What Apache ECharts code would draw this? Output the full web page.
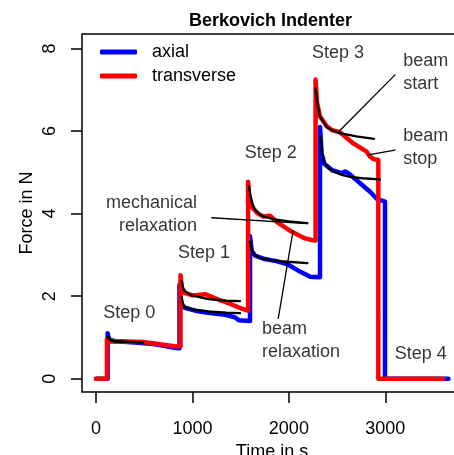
<!DOCTYPE html>
<html>
<head>
<meta charset="utf-8">
<script src="https://cdn.jsdelivr.net/npm/echarts@6/dist/echarts.min.js"></script>
<style>
  html, body { margin: 0; padding: 0; background: #fff; }
  #chart { width: 454px; height: 455px; }
</style>
</head>
<body>
<div id="chart"></div>
<script>
// measured force curves [time s, force N]
const axial = [
  [0, 0], [120, 0], [120, 1.10], [135, 0.95], [200, 0.91], [400, 0.88], [600, 0.84], [815, 0.75], [865, 0.74],
  [865, 2.28], [882, 1.80], [920, 1.72], [1030, 1.65], [1160, 1.60], [1340, 1.55], [1440, 1.49], [1480, 1.42], [1597, 1.40],
  [1597, 3.45], [1615, 3.10], [1650, 2.98], [1750, 2.90], [1870, 2.85], [1980, 2.78], [2120, 2.59], [2220, 2.47], [2323, 2.46],
  [2323, 6.10], [2340, 5.45], [2370, 5.20], [2450, 5.05], [2548, 4.98], [2582, 5.02], [2620, 4.97], [2703, 4.81], [2842, 4.53], [2911, 4.36], [2997, 4.29],
  [2997, 0], [3655, 0]
];
const transverse = [
  [0, 0], [113, 0], [113, 0.96], [130, 0.91], [300, 0.90], [487, 0.89], [642, 0.84], [815, 0.79], [876, 0.79],
  [876, 2.51], [890, 2.20], [920, 2.08], [1000, 2.02], [1130, 2.05], [1268, 1.92], [1407, 1.80], [1511, 1.70], [1577, 1.65],
  [1577, 4.77], [1590, 4.40], [1620, 4.15], [1680, 4.00], [1736, 3.93], [1804, 3.95], [1874, 3.80], [2030, 3.56], [2168, 3.40], [2237, 3.36], [2277, 3.35],
  [2277, 7.25], [2292, 6.70], [2323, 6.35], [2392, 6.12], [2450, 6.02], [2530, 5.97], [2669, 5.70], [2807, 5.50], [2842, 5.38], [2880, 5.32], [2928, 5.30],
  [2928, 0], [3603, 0]
];

// relaxation fits
const fitA0 = [[124, 1.03], [150, 0.95], [176, 0.92], [300, 0.90], [487, 0.88]];
const fitT0 = [[120, 1.00], [150, 0.93], [200, 0.90], [350, 0.89], [480, 0.87]];
const fitT1 = [[888, 2.36], [905, 2.18], [922, 2.12], [992, 2.02], [1164, 1.93], [1350, 1.89], [1493, 1.88]];
const fitA1 = [[888, 1.97], [905, 1.80], [922, 1.74], [992, 1.68], [1164, 1.63], [1350, 1.60], [1493, 1.59]];
const fitT2 = [[1587, 4.65], [1600, 4.45], [1620, 4.25], [1649, 4.09], [1700, 3.98], [1736, 3.93], [1850, 3.86], [2000, 3.81], [2192, 3.77]];
const fitA2 = [[1597, 3.32], [1610, 3.15], [1630, 3.05], [1649, 3.00], [1700, 2.93], [1800, 2.88], [1950, 2.84], [2192, 2.80]];
const fitT3 = [[2278, 7.03], [2290, 6.75], [2305, 6.55], [2323, 6.35], [2392, 6.10], [2450, 6.02], [2530, 5.95], [2700, 5.87], [2883, 5.81]];
const fitA3 = [[2330, 5.86], [2340, 5.55], [2357, 5.30], [2400, 5.12], [2461, 5.02], [2550, 4.94], [2634, 4.89], [2800, 4.85], [2945, 4.83]];

// annotation pointers
const mechPointer = [[1200, 3.90], [2192, 3.76]];
const beamRelaxPointer = [[1890, 1.465], [2043, 3.58]];
const beamStartPointer = [[3101, 7.36], [2524, 6.00]];
const beamStopPointer = [[2824, 5.42], [3101, 5.54]];

// annotation texts [time, force, text, align]
const notes = [
  [344, 1.60, 'Step 0', 'center'],
  [1120, 3.05, 'Step 1', 'center'],
  [1813, 5.46, 'Step 2', 'center'],
  [2510, 7.88, 'Step 3', 'center'],
  [3369, 0.60, 'Step 4', 'center'],
  [1047, 3.97, 'mechanical\nrelaxation', 'right'],
  [1722, 0.93, 'beam\nrelaxation', 'left'],
  [3187, 7.41, 'beam\nstart', 'left'],
  [3187, 5.59, 'beam\nstop', 'left']
];

const xTicks = [0, 1000, 2000, 3000];
const yTicks = [0, 2, 4, 6, 8];

const font = 'Liberation Sans, Arial, sans-serif';

const thick = (name, data, color) => ({
  name: name,
  type: 'line',
  data: data,
  color: color,
  symbol: 'none',
  lineStyle: { color: color, width: 4.5, cap: 'round', join: 'round' },
  silent: true
});
const thin = (data, width) => ({
  type: 'line',
  data: data,
  symbol: 'none',
  lineStyle: { color: '#000', width: width, cap: 'round', join: 'round' },
  silent: true
});

const chart = echarts.init(document.getElementById('chart'));
chart.setOption({
  animation: false,
  textStyle: { fontFamily: font },
  title: {
    text: 'Berkovich Indenter',
    left: 189,
    top: 12,
    padding: 0,
    textStyle: { fontFamily: font, fontSize: 18, fontWeight: 'bold', color: '#000' }
  },
  legend: {
    data: ['axial', 'transverse'],
    orient: 'vertical',
    left: 100,
    top: 43,
    padding: 0,
    itemGap: 6,
    itemWidth: 37,
    itemHeight: 5,
    icon: 'roundRect',
    textStyle: { fontFamily: font, fontSize: 18, color: '#000', padding: [0, 0, 0, 10] }
  },
  grid: {
    left: 82,
    right: -8,
    top: 34,
    bottom: 63,
    outerBoundsMode: 'none',
    containLabel: false,
    show: true,
    borderColor: '#000',
    borderWidth: 1.5
  },
  xAxis: {
    type: 'value',
    min: -146,
    max: 3796,
    name: 'Time in s',
    nameLocation: 'middle',
    nameGap: 51,
    nameMoveOverlap: false,
    nameTextStyle: { fontFamily: font, fontSize: 18, color: '#000' },
    axisLine: { show: false, onZero: false },
    axisTick: { show: true, inside: false, length: 11, customValues: xTicks, lineStyle: { color: '#000', width: 1.5 } },
    axisLabel: { customValues: xTicks, formatter: v => String(v), margin: 28, fontFamily: font, fontSize: 18, color: '#000' },
    splitLine: { show: false }
  },
  yAxis: {
    type: 'value',
    min: -0.32,
    max: 8.35,
    name: 'Force in N',
    nameLocation: 'middle',
    nameGap: 46,
    nameMoveOverlap: false,
    nameTextStyle: { fontFamily: font, fontSize: 18, color: '#000' },
    axisLine: { show: false, onZero: false },
    axisTick: { show: true, inside: false, length: 11, customValues: yTicks, lineStyle: { color: '#000', width: 1.5 } },
    axisLabel: {
      customValues: yTicks, formatter: v => String(v), rotate: 90,
      align: 'center', verticalAlign: 'middle', margin: 32,
      fontFamily: font, fontSize: 18, color: '#000'
    },
    splitLine: { show: false }
  },
  series: [
    thick('axial', axial, '#0000ff'),
    thick('transverse', transverse, '#ff0000'),
    thin(fitA0, 2.3), thin(fitT0, 2.3),
    thin(fitA1, 2.3), thin(fitT1, 2.3),
    thin(fitA2, 2.3), thin(fitT2, 2.3),
    thin(fitA3, 2.3), thin(fitT3, 2.3),
    thin(mechPointer, 1.3), thin(beamRelaxPointer, 1.3),
    thin(beamStartPointer, 1.3), thin(beamStopPointer, 1.3),
    {
      type: 'scatter',
      symbolSize: 0,
      silent: true,
      data: notes.map(n => ({
        value: [n[0], n[1]],
        label: {
          show: true,
          position: 'inside',
          formatter: n[2],
          align: n[3],
          verticalAlign: 'middle',
          lineHeight: 23,
          fontFamily: font,
          fontSize: 18,
          color: '#000'
        }
      }))
    }
  ]
});
</script>
</body>
</html>
